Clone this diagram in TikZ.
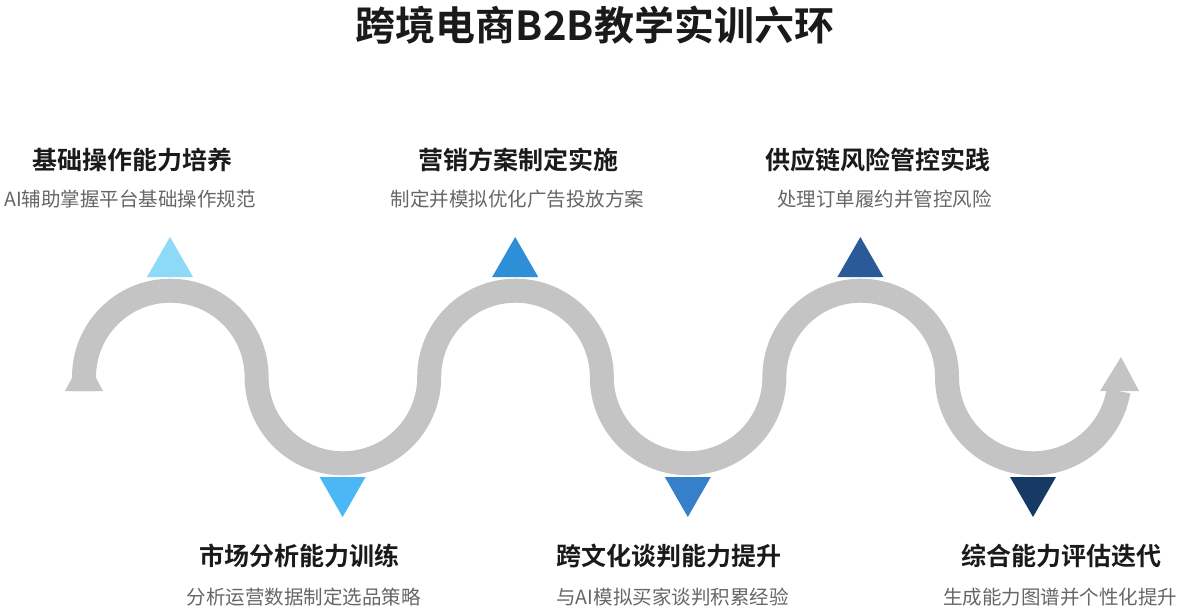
\documentclass[tikz,border=0pt]{standalone}
\usepackage{fontspec}
\setmainfont{Noto Sans CJK SC}
\newfontfamily\cjkbold{Noto Sans CJK SC Bold}
\newfontfamily\cjkreg{Noto Sans CJK SC}
\definecolor{wavegray}{HTML}{C4C4C4}
\definecolor{subgray}{HTML}{666666}
\definecolor{headblack}{HTML}{1A1A1A}
\definecolor{tri1}{HTML}{8ED8F8}
\definecolor{tri2}{HTML}{4BB8F5}
\definecolor{tri3}{HTML}{2E8FD8}
\definecolor{tri4}{HTML}{3580C8}
\definecolor{tri5}{HTML}{2A5A98}
\definecolor{tri6}{HTML}{173A64}
\begin{document}
\begin{tikzpicture}[x=1pt,y=1pt,
  titlestyle/.style={font=\cjkbold\fontsize{40}{48}\selectfont, text=headblack, inner sep=0pt},
  headstyle/.style={font=\cjkbold\fontsize{25}{30}\selectfont, text=headblack, inner sep=0pt},
  substyle/.style={font=\cjkreg\fontsize{19.5}{24}\selectfont, text=subgray, inner sep=0pt},
  wave/.style={draw=wavegray, line width=24pt, line cap=butt}
]
\useasboundingbox (0,0) rectangle (1182,-613);

% title
\node[titlestyle] (title) at (595,-25) {跨境电商B2B教学实训六环};

% wave
\draw[wave] (84,-391) -- (84,-377)
  arc[start angle=180, end angle=0, radius=86.3]
  arc[start angle=180, end angle=360, radius=86.3]
  arc[start angle=180, end angle=0, radius=86.3]
  arc[start angle=180, end angle=360, radius=86.3]
  arc[start angle=180, end angle=0, radius=86.3]
  arc[start angle=180, end angle=350.6, radius=86.3];
% tail
\fill[wavegray] (72,-378) -- (96,-378) -- (103,-391) -- (65,-391) -- cycle;
% arrow head
\fill[wavegray] (1100,-391) -- (1139,-391) -- (1121,-357) -- cycle;

% triangles (top: pointing up, bottom: pointing down)
\fill[tri1] (147,-277) -- (193,-277) -- (170,-237) -- cycle;
\fill[tri2] (319.6,-477) -- (365.6,-477) -- (342.6,-517) -- cycle;
\fill[tri3] (492.2,-277) -- (538.2,-277) -- (515.2,-237) -- cycle;
\fill[tri4] (664.8,-477) -- (710.8,-477) -- (687.8,-517) -- cycle;
\fill[tri5] (837.4,-277) -- (883.4,-277) -- (860.4,-237) -- cycle;
\fill[tri6] (1010,-477) -- (1056,-477) -- (1033,-517) -- cycle;

% labels top
\node[headstyle] (h1) at (132.5,-160) {基础操作能力培养};
\node[substyle] (s1) at (130,-199) {AI辅助掌握平台基础操作规范};
\node[headstyle] (h3) at (518.5,-160) {营销方案制定实施};
\node[substyle] (s3) at (517.5,-199) {制定并模拟优化广告投放方案};
\node[headstyle] (h5) at (877.5,-160) {供应链风险管控实践};
\node[substyle] (s5) at (884.5,-199) {处理订单履约并管控风险};

% labels bottom
\node[headstyle] (h2) at (299,-556) {市场分析能力训练};
\node[substyle] (s2) at (303.5,-597) {分析运营数据制定选品策略};
\node[headstyle] (h4) at (668.5,-556) {跨文化谈判能力提升};
\node[substyle] (s4) at (672.5,-597) {与AI模拟买家谈判积累经验};
\node[headstyle] (h6) at (1061.5,-556) {综合能力评估迭代};
\node[substyle] (s6) at (1060,-597) {生成能力图谱并个性化提升};
\end{tikzpicture}
\end{document}
